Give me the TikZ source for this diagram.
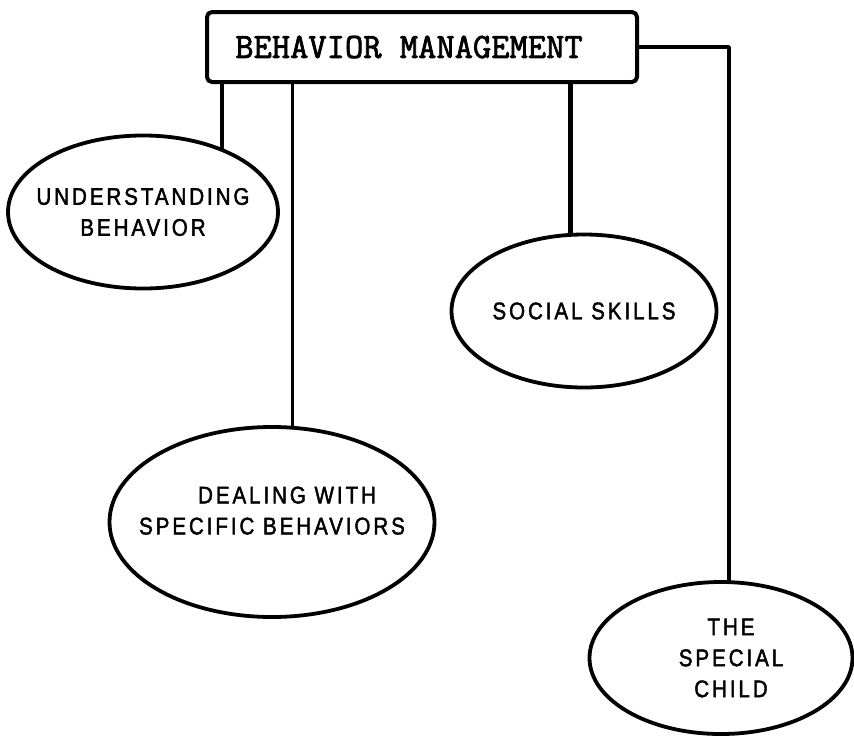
\documentclass[tikz,border=0pt]{standalone}
\usepackage{fontspec}
\setmainfont{Liberation Sans}
\newfontfamily\typefont[FakeBold=2.2]{Latin Modern Mono}
\newfontfamily\letterfont[LetterSpace=12,FakeStretch=0.86,FakeBold=1.8]{Liberation Sans}
\usetikzlibrary{shapes.geometric}
\tikzstyle{every path}=[line width=3.6pt,line cap=round,line join=round]
\tikzstyle{topic}=[ellipse,draw,line width=3.8pt,fill=white,inner xsep=-40pt,inner ysep=0pt,align=center,font=\letterfont\fontsize{24}{31}\selectfont]
\tikzstyle{title}=[rectangle,draw,line width=4pt,rounded corners=5pt,inner sep=0pt,font=\typefont\fontsize{35.5}{40}\selectfont]

\begin{document}
\begin{tikzpicture}[x=1pt,y=-1pt]
  \useasboundingbox (0,0) rectangle (854,736);
  \node[title,minimum width=430,minimum height=70] (bm) at (422,47) {BEHAVIOR MANAGEMENT\hspace*{26pt}};
  \node[topic,minimum width=270,minimum height=153] (und) at (143,212) {UNDERSTANDING\\BEHAVIOR};
  \node[topic,minimum width=325,minimum height=190] (deal) at (272,522) {\hspace{30pt}DEALING WITH\\SPECIFIC BEHAVIORS\\[-8pt]~};
  \node[topic,minimum width=265,minimum height=153] (soc) at (584,311) {SOCIAL SKILLS};
  \node[topic,minimum width=263,minimum height=152] (spec) at (721,658) {\hspace{20pt}THE\\\hspace{20pt}SPECIAL\\\hspace{20pt}CHILD};
  % links
  \draw (und.39.5) -- (und.39.5 |- bm.south);
  \draw (deal.78) -- (deal.78 |- bm.south);
  \draw[line width=4.5pt] (soc.100) -- (soc.100 |- bm.south);
  \draw (bm.east) -| ([xshift=8pt]spec.north);
\end{tikzpicture}
\end{document}
